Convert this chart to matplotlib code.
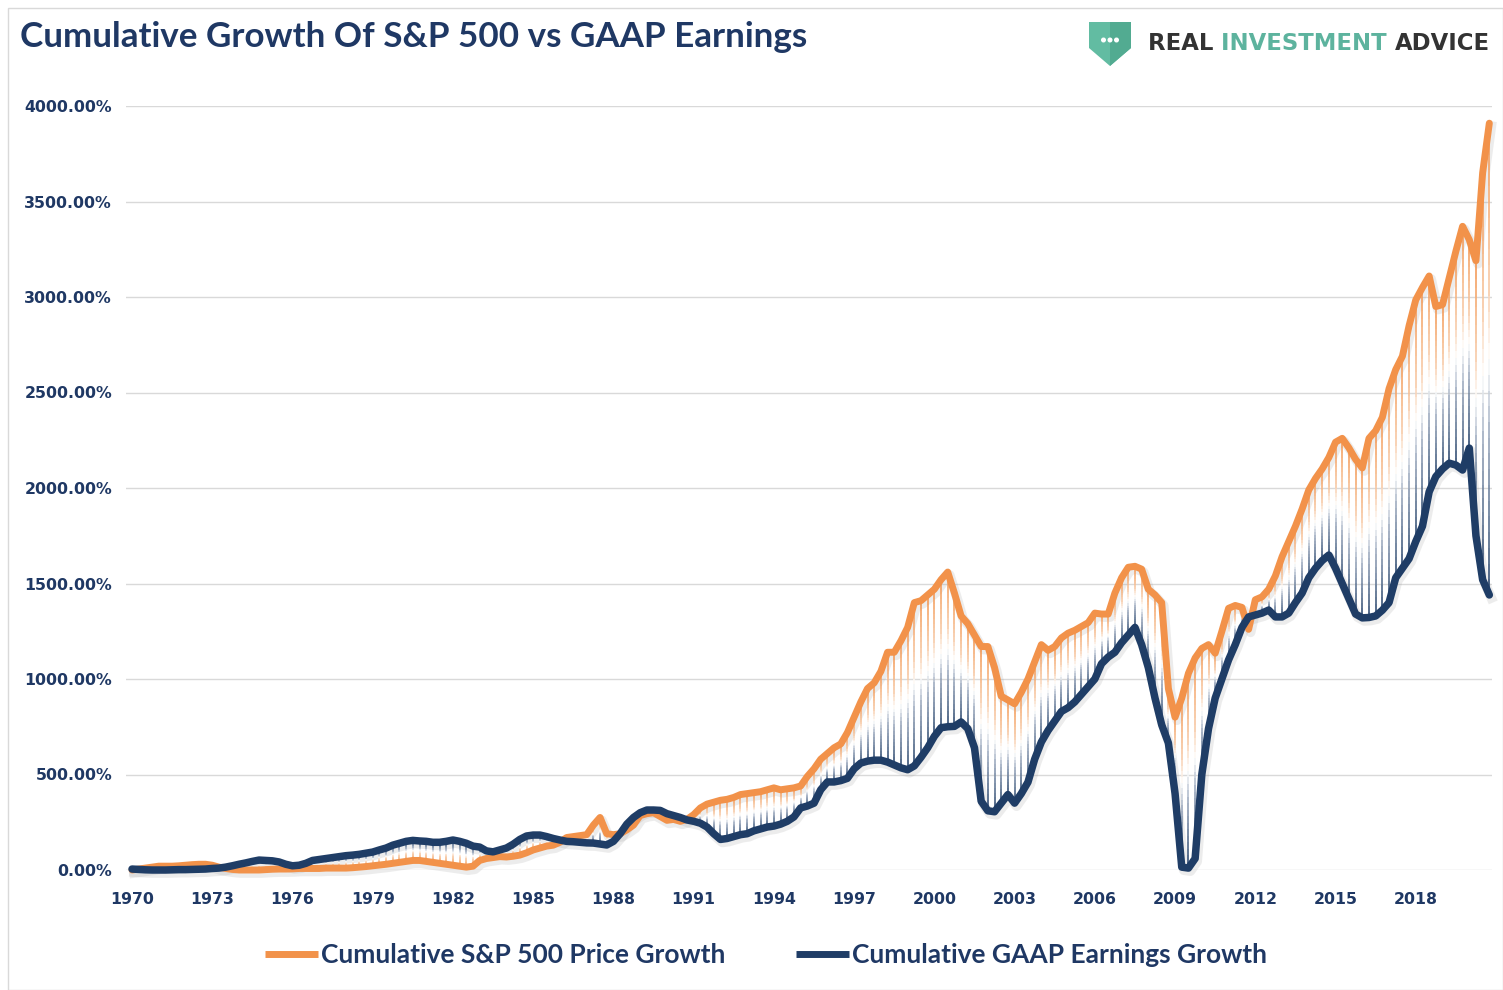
import matplotlib
matplotlib.use("Agg")
import matplotlib.pyplot as plt
import numpy as np
from matplotlib.collections import LineCollection
from matplotlib.colors import LinearSegmentedColormap
from matplotlib.patches import Polygon, Circle, Rectangle
import matplotlib.transforms as mtransforms

# quarterly data, 1970Q1 .. 2020Q4 (cumulative growth, %)
spx_growth = [
    0, 5, 10, 15,          # 1970
    20, 20, 20, 22,        # 1971
    25, 28, 30, 30,        # 1972
    25, 15, 8, 3,          # 1973
    0, 0, 0, 0,            # 1974
    2, 4, 5, 5,            # 1975
    6, 8, 8, 8,            # 1976
    8, 10, 10, 10,         # 1977
    10, 12, 15, 18,        # 1978
    22, 26, 30, 35,        # 1979
    40, 45, 50, 50,        # 1980
    45, 40, 35, 30,        # 1981
    25, 20, 15, 20,        # 1982
    50, 60, 65, 70,        # 1983
    68, 72, 78, 90,        # 1984
    105, 115, 125, 130,    # 1985
    145, 170, 175, 180,    # 1986
    185, 235, 275, 190,    # 1987
    185, 190, 210, 235,    # 1988
    285, 295, 300, 280,    # 1989
    260, 265, 255, 265,    # 1990
    290, 325, 345, 355,    # 1991
    365, 370, 380, 395,    # 1992
    400, 405, 410, 420,    # 1993
    430, 420, 425, 430,    # 1994
    440, 490, 530, 580,    # 1995
    610, 640, 660, 720,    # 1996
    800, 880, 950, 980,    # 1997
    1040, 1140, 1140, 1200,  # 1998
    1270, 1400, 1410, 1440,  # 1999
    1470, 1520, 1560, 1450,  # 2000
    1330, 1290, 1230, 1170,  # 2001
    1170, 1060, 910, 890,    # 2002
    870, 930, 1000, 1090,    # 2003
    1180, 1150, 1170, 1215,  # 2004
    1240, 1255, 1275, 1295,  # 2005
    1345, 1340, 1340, 1450,  # 2006
    1530, 1585, 1590, 1575,  # 2007
    1470, 1440, 1400, 950,   # 2008
    800, 900, 1030, 1110,    # 2009
    1160, 1180, 1135, 1250,  # 2010
    1370, 1385, 1375, 1260,  # 2011
    1415, 1430, 1470, 1540,  # 2012
    1640, 1720, 1800, 1890,  # 2013
    1990, 2050, 2100, 2160,  # 2014
    2240, 2260, 2210, 2150,  # 2015
    2105, 2260, 2300, 2370,  # 2016
    2520, 2620, 2690, 2850,  # 2017
    2985, 3050, 3110, 2950,  # 2018
    2960, 3100, 3240, 3370,  # 2019
    3300, 3190, 3650, 3910,  # 2020
]

gaap_growth = [
    5, 3, 1, 0,            # 1970
    0, 0, 1, 2,            # 1971
    2, 3, 4, 5,            # 1972
    8, 10, 15, 22,         # 1973
    30, 37, 45, 52,        # 1974
    50, 48, 42, 30,        # 1975
    22, 25, 35, 50,        # 1976
    55, 60, 65, 70,        # 1977
    75, 78, 82, 88,        # 1978
    94, 105, 115, 130,     # 1979
    140, 150, 155, 152,    # 1980
    150, 145, 145, 150,    # 1981
    157, 150, 140, 125,    # 1982
    120, 100, 95, 105,     # 1983
    115, 135, 160, 178,    # 1984
    183, 183, 175, 165,    # 1985
    157, 150, 148, 145,    # 1986
    142, 141, 136, 131,    # 1987
    150, 190, 240, 275,    # 1988
    300, 314, 314, 312,    # 1989
    295, 285, 275, 262,    # 1990
    255, 245, 225, 190,    # 1991
    160, 165, 175, 185,    # 1992
    190, 205, 215, 225,    # 1993
    230, 240, 255, 278,    # 1994
    325, 335, 350, 420,    # 1995
    461, 461, 468, 480,    # 1996
    530, 560, 570, 575,    # 1997
    575, 565, 550, 535,    # 1998
    525, 545, 590, 640,    # 1999
    700, 745, 750, 752,    # 2000
    775, 740, 640, 360,    # 2001
    310, 305, 350, 395,    # 2002
    350, 400, 460, 580,    # 2003
    670, 730, 780, 830,    # 2004
    850, 880, 920, 960,    # 2005
    1000, 1080, 1115, 1140,  # 2006
    1190, 1230, 1270, 1180,  # 2007
    1060, 900, 760, 665,     # 2008
    400, 15, 10, 60,         # 2009
    500, 740, 900, 1000,     # 2010
    1100, 1180, 1270, 1325,  # 2011
    1335, 1345, 1361, 1325,  # 2012
    1325, 1345, 1400, 1450,  # 2013
    1530, 1580, 1620, 1649,  # 2014
    1580, 1500, 1420, 1340,  # 2015
    1320, 1322, 1330, 1360,  # 2016
    1400, 1530, 1580, 1630,  # 2017
    1720, 1800, 1980, 2060,  # 2018
    2100, 2130, 2120, 2094,  # 2019
    2209, 1750, 1520, 1440,  # 2020
]

tick_years = list(range(1970, 2019, 3))
y_ticks = [0, 500, 1000, 1500, 2000, 2500, 3000, 3500, 4000]

orange = "#F2924A"
navy = "#1F3D66"
text_navy = "#1F3864"

spx = np.array(spx_growth, dtype=float)
gaap = np.array(gaap_growth, dtype=float)
x = np.arange(len(spx))

W, H = 1503, 990
fig = plt.figure(figsize=(W / 100, H / 100), dpi=100)
ax = fig.add_axes([126 / W, 1 - 870 / H, (1492 - 126) / W, (870 - 106) / H])

# high-low lines, orange end -> white -> navy end
cmap = LinearSegmentedColormap.from_list(
    "hl", [(0, orange), (0.35, "#f7c9a4"), (0.5, "#ffffff"), (0.65, "#9aa8bd"), (1, navy)])
n_sub = 30
segs, cols = [], []
for xi, a, b in zip(x, spx, gaap):
    ys = np.linspace(a, b, n_sub + 1)
    for k in range(n_sub):
        segs.append([(xi, ys[k]), (xi, ys[k + 1])])
        cols.append(cmap((k + 0.5) / n_sub))
ax.add_collection(LineCollection(segs, colors=cols, linewidths=1.15, zorder=2))

# soft shadows under the lines
shadow = mtransforms.offset_copy(ax.transData, fig=fig, x=2, y=-3, units="dots")
for series in (spx, gaap):
    ax.plot(x, series, color="#9a9a9a", lw=7, alpha=0.18, transform=shadow, zorder=1,
            solid_joinstyle="round", clip_on=False)

ax.plot(x, spx, color=orange, lw=5.0, solid_joinstyle="round", solid_capstyle="round",
        zorder=3, clip_on=False, label="Cumulative S&P 500 Price Growth")
ax.plot(x, gaap, color=navy, lw=5.4, solid_joinstyle="round", solid_capstyle="round",
        zorder=4, clip_on=False, label="Cumulative GAAP Earnings Growth")

ax.set_xlim(-0.9, len(x) - 0.6)
ax.set_ylim(0, 4000)
ax.set_yticks(y_ticks)
ax.set_yticklabels([f"{v:.2f}%" for v in y_ticks])
ax.set_xticks([(yr - 1970) * 4 for yr in tick_years])
ax.set_xticklabels([str(yr) for yr in tick_years])
ax.grid(axis="y", color="#D9D9D9", lw=1)
ax.set_axisbelow(True)
for s in ax.spines.values():
    s.set_visible(False)
ax.tick_params(axis="both", length=0, labelcolor=text_navy)
ax.tick_params(axis="y", pad=10)
ax.tick_params(axis="x", pad=16)
for lab in ax.get_xticklabels() + ax.get_yticklabels():
    lab.set_fontweight("bold")
    lab.set_fontsize(11.3)
    lab.set_family("DejaVu Sans")

# title
fig.text(20 / W, 1 - 37 / H, "Cumulative Growth Of S&P 500 vs GAAP Earnings",
         fontsize=25.2, fontweight="bold", color=text_navy, family="Lato",
         va="center", ha="left")

# legend
leg = fig.legend(loc="center", bbox_to_anchor=(766 / W, 1 - 955 / H), ncol=2,
                 frameon=False, handlelength=2.0, handletextpad=0.1,
                 columnspacing=2.7, prop={"family": "Lato", "weight": "bold", "size": 19})
for t in leg.get_texts():
    t.set_color(text_navy)
for h in leg.get_lines():
    h.set_linewidth(5)
    h.set_solid_capstyle("butt")

# logo
lax = fig.add_axes([1086 / W, 1 - 68 / H, 48 / W, 48 / H])
lax.set_xlim(0, 48)
lax.set_ylim(0, 48)
lax.axis("off")
lax.add_patch(Polygon([(3, 46), (45, 46), (45, 20), (24, 2), (3, 20)], closed=True,
                      facecolor="#62BCA2", edgecolor="none"))
lax.add_patch(Polygon([(24, 46), (45, 46), (45, 20), (24, 2)], closed=True,
                      facecolor="#52AB91", edgecolor="none"))
for cx in (17.5, 24, 30.5):
    lax.add_patch(Circle((cx, 28), 1.8, color="white"))

renderer = fig.canvas.get_renderer()
xpos = 1148
for word, col in [("REAL ", "#333333"), ("INVESTMENT ", "#5DB39E"), ("ADVICE", "#333333")]:
    t = fig.text(xpos / W, 1 - 44 / H, word, fontsize=16.4, color=col,
                 family="DejaVu Sans", fontweight="bold", va="center", ha="left")
    xpos += t.get_window_extent(renderer).width

# chart border
fig.patches.append(Rectangle((8 / W, 0), 1 - 8 / W, 1 - 8 / H, transform=fig.transFigure,
                             fill=False, edgecolor="#D9D9D9", lw=1))

fig.savefig("out.png", dpi=100)
